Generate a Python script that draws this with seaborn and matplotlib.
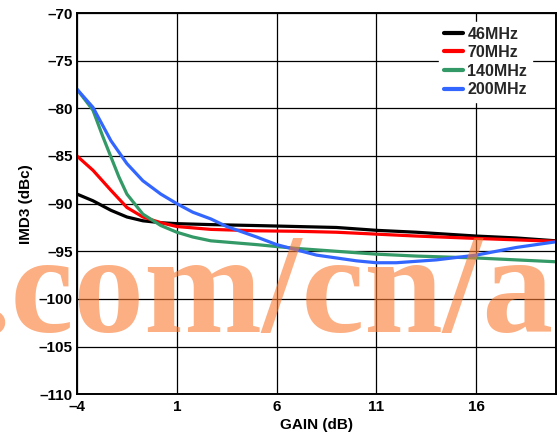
import matplotlib
matplotlib.use("Agg")
import matplotlib.pyplot as plt
import seaborn as sns
import pandas as pd

# ---- data ----
gain_46 = [-4, -3.2, -2.3, -1.5, -0.7, 0.2, 1, 2.7, 5, 7, 9, 11, 13, 16, 18, 20]
imd_46 = [-89.0, -89.7, -90.7, -91.4, -91.8, -92.0, -92.1, -92.2, -92.3, -92.4,
          -92.5, -92.8, -93.0, -93.4, -93.6, -93.9]

gain_70 = [-4, -3.2, -2.3, -1.5, -0.7, 0.2, 1, 2.7, 5, 7, 9, 11, 13, 16, 18, 20]
imd_70 = [-85.0, -86.5, -88.6, -90.4, -91.4, -92.0, -92.4, -92.7, -92.85, -92.9,
          -93.0, -93.2, -93.4, -93.65, -93.8, -93.95]

gain_140 = [-4, -3.2, -2.7, -2.3, -1.9, -1.5, -0.7, 0.2, 1, 1.8, 2.7, 5, 7, 9,
            11, 13, 16, 18, 20]
imd_140 = [-78.0, -80.2, -83.0, -85.1, -87.2, -89.0, -91.1, -92.3, -93.0, -93.5,
           -93.9, -94.3, -94.7, -95.0, -95.3, -95.5, -95.7, -95.9, -96.1]

gain_200 = [-4, -3.2, -2.3, -1.5, -0.7, 0.2, 1, 1.8, 2.7, 3.5, 5, 6, 8, 10, 11,
            12, 14, 16, 18, 20]
imd_200 = [-78.0, -79.9, -83.4, -85.8, -87.6, -89.0, -90.0, -90.9, -91.6, -92.4,
           -93.5, -94.3, -95.4, -96.0, -96.2, -96.2, -95.9, -95.4, -94.6, -94.0]

series_names = ["46MHz", "70MHz", "140MHz", "200MHz"]
series_colors = ["#000000", "#FF0000", "#339966", "#3366FF"]

x_ticks = [-4, 1, 6, 11, 16]
x_tick_labels = ["–4", "1", "6", "11", "16"]
y_ticks = [-110, -105, -100, -95, -90, -85, -80, -75, -70]
y_tick_labels = ["–110", "–105", "–100", "–95", "–90", "–85", "–80", "–75", "–70"]

frames = []
for name, gx, iy in zip(series_names,
                        [gain_46, gain_70, gain_140, gain_200],
                        [imd_46, imd_70, imd_140, imd_200]):
    frames.append(pd.DataFrame({"gain": gx, "imd3": iy, "freq": name}))
df = pd.concat(frames, ignore_index=True)

sns.set_theme(style="white")
plt.rcParams["font.family"] = ["Liberation Sans", "DejaVu Sans"]

fig = plt.figure(figsize=(5.6, 4.44), dpi=100)
ax = fig.add_axes([0.1375, 0.112, 0.8555, 0.8587])

sns.lineplot(data=df, x="gain", y="imd3", hue="freq", hue_order=series_names,
             palette=dict(zip(series_names, series_colors)), sort=False,
             linewidth=2.3, ax=ax, zorder=3)

ax.set_xlim(-4, 20)
ax.set_ylim(-110, -70)
ax.set_xticks(x_ticks)
ax.set_xticklabels(x_tick_labels)
ax.set_yticks(y_ticks)
ax.set_yticklabels(y_tick_labels)
for lab in ax.get_xticklabels() + ax.get_yticklabels():
    lab.set_fontweight("bold")
    lab.set_fontsize(11)
    lab.set_color("black")
ax.tick_params(axis="x", length=0, pad=4)
ax.tick_params(axis="y", length=0, pad=3)
ax.grid(True, color="black", linewidth=0.9)
ax.set_axisbelow(True)
for sp in ax.spines.values():
    sp.set_color("black")
    sp.set_linewidth(1.4)
    sp.set_zorder(4)

ax.set_xlabel("GAIN (dB)", fontsize=11, fontweight="bold", color="black", labelpad=3)
ax.set_ylabel("IMD3 (dBc)", fontsize=11, fontweight="bold", color="black", labelpad=4)

leg = ax.legend(loc="upper right", bbox_to_anchor=(0.95, 0.977), frameon=True,
                fancybox=False, handlelength=1.2, handletextpad=0.3,
                labelspacing=0.22, borderpad=0.3, borderaxespad=0,
                prop={"weight": "bold", "size": 11.5})
leg.get_frame().set_edgecolor("white")
leg.get_frame().set_facecolor("white")
leg.get_frame().set_alpha(1)
leg.set_zorder(5)
for h in leg.get_lines():
    h.set_linewidth(3)

# watermark overlay
fig.text(-0.0436, 0.253, ".com/cn/a", fontsize=102, fontweight="bold",
         family=["Liberation Serif", "DejaVu Serif"], color="#FA7A30", alpha=0.6,
         ha="left", va="baseline", zorder=10)

fig.savefig("out.png", dpi=100)
